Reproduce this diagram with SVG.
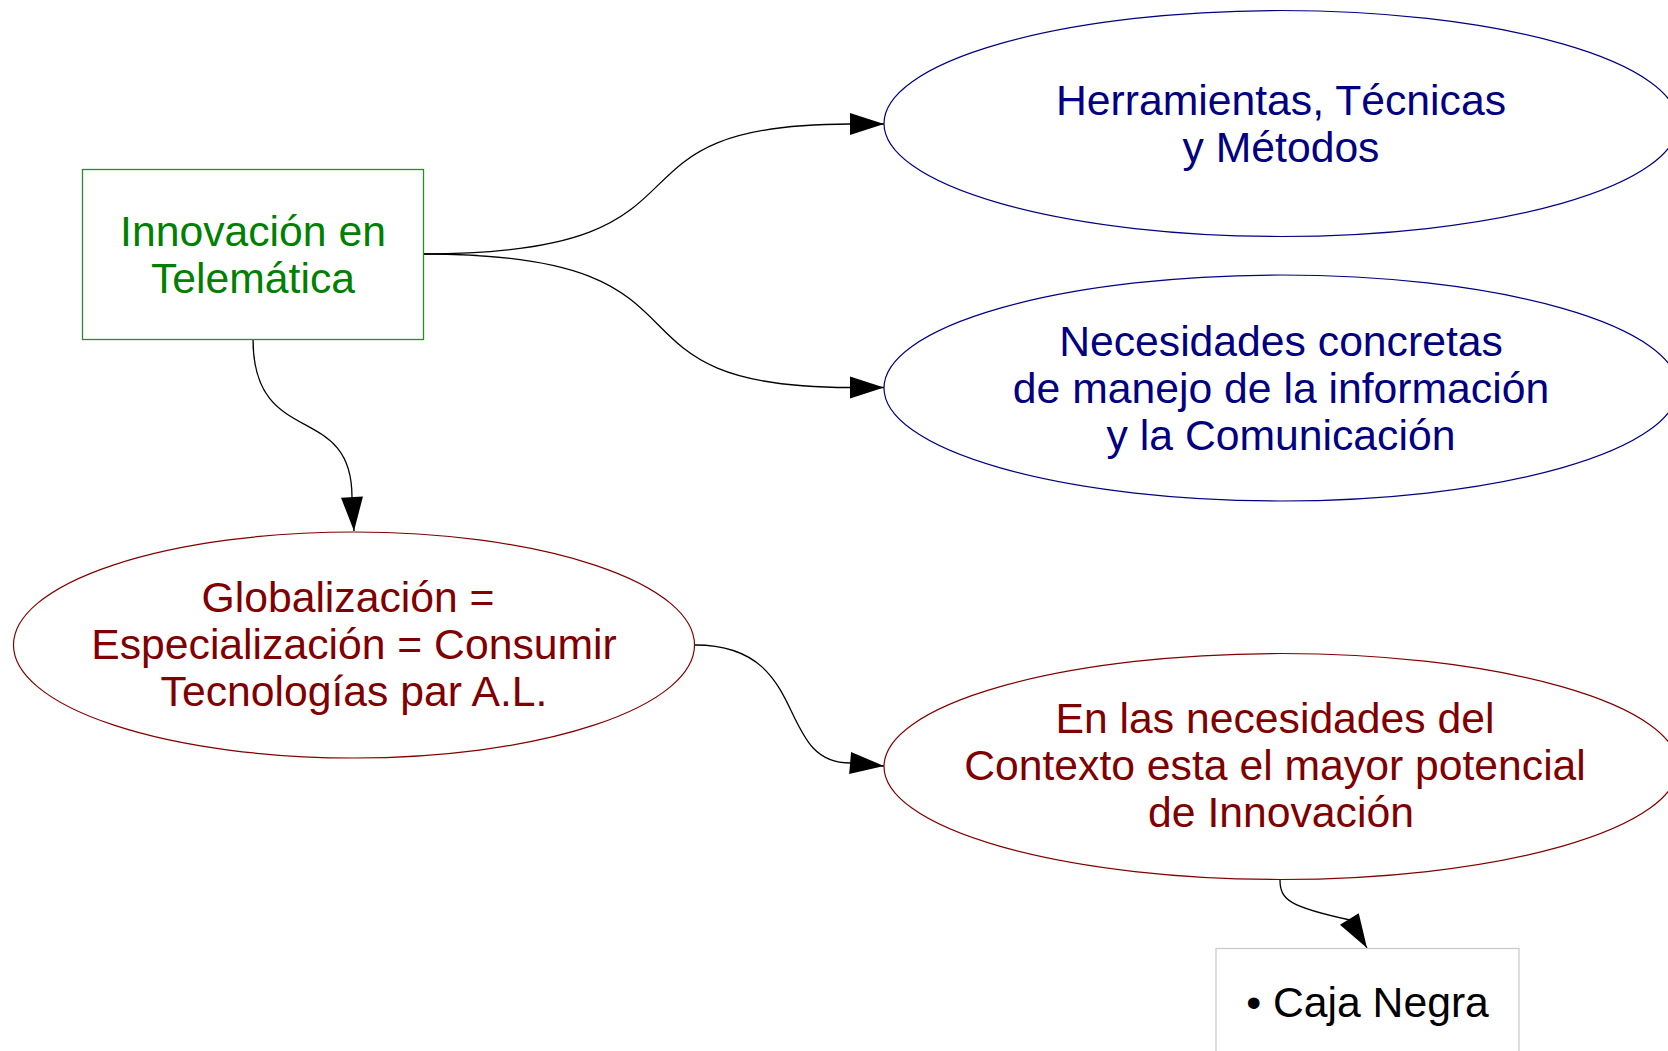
<svg xmlns="http://www.w3.org/2000/svg" width="1668" height="1051" viewBox="0 0 1668 1051">
  <style>
    text { font-family: "Liberation Sans", Arial, sans-serif; font-size: 42.7px; text-anchor: middle; }
    .green text { fill: #008000; }
    .blue text { fill: #000080; }
    .red text { fill: #800000; }
    .blk text { fill: #000000; }
    .blue ellipse { fill: #ffffff; stroke: #000080; stroke-width: 1.2; }
    .red ellipse { fill: #ffffff; stroke: #800000; stroke-width: 1.2; }
    .edge { fill: none; stroke: #000000; stroke-width: 1.3; marker-end: url(#arrow); }
  </style>
  <defs>
    <marker id="arrow" markerUnits="userSpaceOnUse" markerWidth="34" markerHeight="22" refX="34" refY="11" orient="auto" overflow="visible">
      <path d="M0,0 L34,11 L0,22 Z" fill="#000000"/>
    </marker>
  </defs>
  <rect width="1668" height="1051" fill="#ffffff"/>

  <g id="connectors">
    <path class="edge" d="M423,254 C740,254 580,124 850,124 L884,124"/>
    <path class="edge" d="M423,254 C740,254 580,387.5 850,387.5 L884,387.5"/>
    <path class="edge" d="M253,339 C253,450 352,400 352,497 L354,531"/>
    <path class="edge" d="M695,645 C812,645 774,763 850,763 L884,766"/>
    <path class="edge" d="M1280,880 C1280,900 1290,907 1350,920 L1367,948"/>
  </g>

  <g id="node-innovacion" class="green">
    <rect x="82.5" y="169.5" width="341" height="170" fill="#ffffff" stroke="#2a8a2a" stroke-width="1.3"/>
    <text x="253" y="246">Innovación en</text>
    <text x="253" y="293">Telemática</text>
  </g>

  <g id="node-herramientas" class="blue">
    <ellipse cx="1281" cy="123.5" rx="397" ry="113"/>
    <text x="1281" y="115">Herramientas, Técnicas</text>
    <text x="1281" y="162">y Métodos</text>
  </g>

  <g id="node-necesidades" class="blue">
    <ellipse cx="1281" cy="388" rx="397" ry="113"/>
    <text x="1281" y="356">Necesidades concretas</text>
    <text x="1281" y="403">de manejo de la información</text>
    <text x="1281" y="450">y la Comunicación</text>
  </g>

  <g id="node-globalizacion" class="red">
    <ellipse cx="354" cy="645" rx="340.5" ry="113"/>
    <text x="348" y="612">Globalización =</text>
    <text x="354" y="659">Especialización = Consumir</text>
    <text x="354" y="706">Tecnologías par A.L.</text>
  </g>

  <g id="node-contexto" class="red">
    <ellipse cx="1281" cy="766.5" rx="397" ry="113"/>
    <text x="1275" y="733">En las necesidades del</text>
    <text x="1275" y="780">Contexto esta el mayor potencial</text>
    <text x="1281" y="827">de Innovación</text>
  </g>

  <g id="node-caja" class="blk">
    <rect x="1216" y="948.5" width="303" height="140" fill="#ffffff" stroke="#cccccc" stroke-width="1.3"/>
    <text x="1367.5" y="1017">• Caja Negra</text>
  </g>
</svg>
